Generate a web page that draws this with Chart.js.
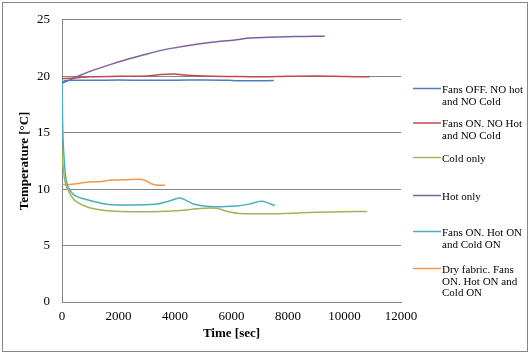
<!DOCTYPE html>
<html>
<head>
<meta charset="utf-8">
<script src="https://cdn.jsdelivr.net/npm/chart.js@4.4.1/dist/chart.umd.min.js"></script>
<style>
  body { margin: 0; background: #fff; }
  canvas { display: block; }
</style>
</head>
<body>
<canvas id="temps" width="530" height="354"></canvas>
<script>
// time [sec] / temperature [°C]
const offTime = [0, 100, 300, 1000, 2000, 3000, 4000, 5000, 5900, 6200, 7000, 7500];
const offTemp = [19.4, 19.6, 19.65, 19.65, 19.66, 19.65, 19.65, 19.66, 19.64, 19.6, 19.6, 19.62];

const fansTime = [0, 300, 700, 1000, 2000, 3000, 3500, 4000, 4300, 5000, 6000, 7000, 8000, 9000, 10000, 10900];
const fansTemp = [19.8, 19.82, 19.9, 19.95, 20.0, 20.02, 20.15, 20.2, 20.1, 20.02, 19.98, 19.95, 20.0, 20.02, 19.98, 19.95];

const coldTime = [0, 40, 106, 225, 460, 930, 1520, 2110, 3000, 3470, 4200, 4770, 5480, 5830, 6300, 7000, 7950, 9000, 10000, 10800];
const coldTemp = [13.5, 12.0, 10.7, 9.86, 8.98, 8.39, 8.1, 8.02, 8.0, 8.01, 8.1, 8.27, 8.3, 8.04, 7.83, 7.82, 7.85, 7.95, 8.0, 8.02];

const hotTime = [0, 300, 637, 1110, 1700, 2290, 2900, 3470, 4060, 4650, 5470, 6180, 6650, 7300, 7950, 8600, 9300];
const hotTemp = [19.4, 19.7, 20.07, 20.54, 21.03, 21.48, 21.9, 22.27, 22.55, 22.8, 23.06, 23.24, 23.39, 23.45, 23.5, 23.53, 23.55];

const bothTime = [0, 30, 80, 140, 225, 460, 930, 1520, 2110, 3290, 3800, 4180, 4650, 5240, 6180, 6650, 7070, 7540];
const bothTemp = [20.0, 15.0, 12.5, 10.9, 10.15, 9.42, 9.04, 8.69, 8.6, 8.65, 8.95, 9.21, 8.69, 8.45, 8.51, 8.69, 8.92, 8.54];

const dryTime = [0, 300, 930, 1400, 1760, 2300, 2840, 3000, 3175, 3400, 3650];
const dryTemp = [10.4, 10.42, 10.62, 10.68, 10.8, 10.84, 10.86, 10.7, 10.45, 10.35, 10.36];

const seriesNames = [
    ['Fans OFF. NO hot', 'and NO Cold'],
    ['Fans ON. NO Hot', 'and NO Cold'],
    ['Cold only'],
    ['Hot only'],
    ['Fans ON. Hot ON', 'and Cold ON'],
    ['Dry fabric. Fans', 'ON. Hot ON and', 'Cold ON']
];
const seriesColors = ['#4a7ebb', '#be4b48', '#98b954', '#7d60a0', '#4bacc6', '#f79646'];

const xTicks = [0, 2000, 4000, 6000, 8000, 10000, 12000];
const yTicks = [0, 5, 10, 15, 20, 25];

const gray = '#868686';
const serif = '"Liberation Serif", "Times New Roman", serif';

function pts(t, v) {
    return t.map((x, i) => ({ x: x, y: v[i] }));
}

const series = [
    pts(offTime, offTemp),
    pts(fansTime, fansTemp),
    pts(coldTime, coldTemp),
    pts(hotTime, hotTemp),
    pts(bothTime, bothTemp),
    pts(dryTime, dryTemp)
];

// frame around the whole picture
const framePlugin = {
    id: 'frame',
    beforeDraw(chart) {
        const c = chart.ctx;
        c.save();
        c.fillStyle = '#fff';
        c.fillRect(0, 0, chart.width, chart.height);
        c.strokeStyle = gray;
        c.lineWidth = 1;
        c.strokeRect(2.5, 2.5, chart.width - 5, chart.height - 5);
        c.restore();
    }
};

// legend on the right with wrapped labels
const sideLegend = {
    id: 'sideLegend',
    afterDraw(chart) {
        const c = chart.ctx;
        const tops = [90, 124.5, 159, 197, 233, 270];
        const lineGap = 11.7;
        c.save();
        c.font = '11px ' + serif;
        c.textBaseline = 'middle';
        c.fillStyle = '#000';
        chart.data.datasets.forEach((ds, i) => {
            const y = tops[i];
            c.strokeStyle = ds.borderColor;
            c.lineWidth = 1.5;
            c.beginPath();
            c.moveTo(413, y - 1.5);
            c.lineTo(441, y - 1.5);
            c.stroke();
            seriesNames[i].forEach((txt, k) => {
                c.fillText(txt, 442, y + k * lineGap);
            });
        });
        c.restore();
    }
};

new Chart(document.getElementById('temps').getContext('2d'), {
    type: 'line',
    data: {
        datasets: series.map((d, i) => ({
            label: seriesNames[i].join(' '),
            data: d,
            borderColor: seriesColors[i],
            backgroundColor: seriesColors[i],
            borderWidth: 1.5,
            pointRadius: 0,
            tension: 0.3,
            fill: false
        }))
    },
    options: {
        responsive: false,
        animation: false,
        layout: {
            padding: { left: 0, top: 18, right: 129, bottom: 0 }
        },
        plugins: {
            legend: { display: false },
            tooltip: { enabled: false }
        },
        scales: {
            x: {
                type: 'linear',
                min: 0,
                max: 12000,
                afterBuildTicks: s => { s.ticks = xTicks.map(v => ({ value: v })); },
                afterFit: s => { s.height = 52; },
                grid: { display: false, drawTicks: false },
                border: { display: true, color: gray, width: 1 },
                ticks: {
                    color: '#000',
                    padding: 7,
                    maxRotation: 0,
                    callback: v => String(v),
                    font: { family: serif, size: 13 }
                },
                title: {
                    display: true,
                    text: 'Time [sec]',
                    color: '#000',
                    padding: { top: 0, bottom: 13 },
                    font: { family: serif, size: 13, weight: 'bold' }
                }
            },
            y: {
                min: 0,
                max: 25,
                afterBuildTicks: s => { s.ticks = yTicks.map(v => ({ value: v })); },
                afterFit: s => { s.width = 62; },
                grid: { color: gray, lineWidth: 1, drawTicks: false },
                border: { display: true, color: gray, width: 1 },
                ticks: {
                    color: '#000',
                    padding: 12,
                    font: { family: serif, size: 13 }
                },
                title: {
                    display: true,
                    text: 'Temperature [°C]',
                    color: '#000',
                    padding: { top: 17, bottom: 0 },
                    font: { family: serif, size: 13, weight: 'bold' }
                }
            }
        }
    },
    plugins: [framePlugin, sideLegend]
});
</script>
</body>
</html>
